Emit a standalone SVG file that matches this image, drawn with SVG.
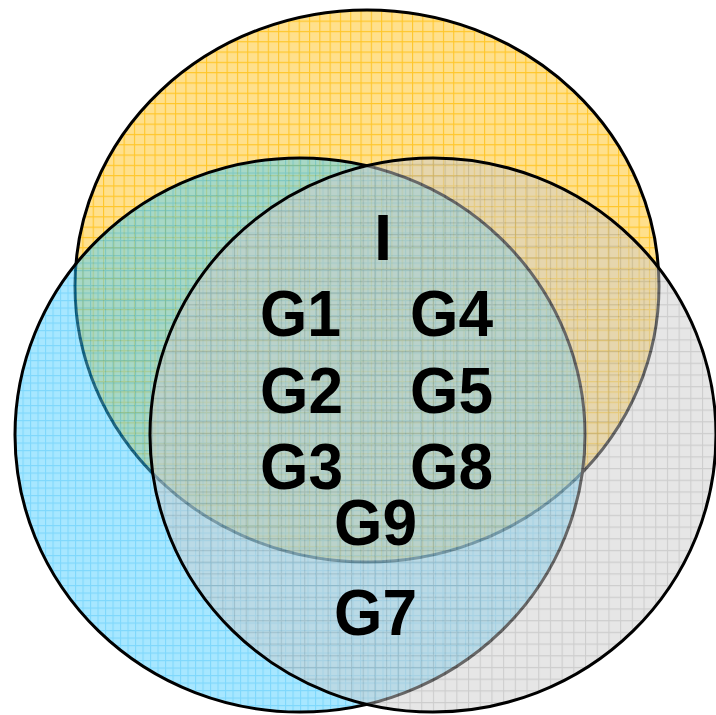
<svg xmlns="http://www.w3.org/2000/svg" width="716" height="715" viewBox="0 0 716 715">
<style>
.set{stroke:#000;stroke-width:3}
.lbl{font-family:"Liberation Sans",Arial,sans-serif;font-weight:bold;font-size:65px;fill:#000}
</style>
<defs>
<pattern id="pY" patternUnits="userSpaceOnUse" width="10.3" height="10.3">
<rect width="10.3" height="10.3" fill="#FFE08C"/>
<path d="M0 0.5H10.3M0.5 0V10.3" stroke="#FFC62A" stroke-width="1.2"/>
</pattern>
<pattern id="pB" patternUnits="userSpaceOnUse" width="7.5" height="7.5">
<rect width="7.5" height="7.5" fill="#4FD0FF"/>
<path d="M0 0.5H7.5M0.5 0V7.5" stroke="#00B0F8" stroke-width="1.2"/>
</pattern>
<pattern id="pG" patternUnits="userSpaceOnUse" width="11.7" height="11.7">
<rect width="11.7" height="11.7" fill="#CDCDCD"/>
<path d="M0 0.5H11.7M0.5 0V11.7" stroke="#9C9C9C" stroke-width="1.2"/>
</pattern>
</defs>
<g id="set-yellow"><ellipse class="set" cx="367" cy="286" rx="292" ry="276" fill="url(#pY)"/></g>
<g id="set-blue"><ellipse class="set" cx="300" cy="435" rx="285" ry="277" fill="url(#pB)" fill-opacity="0.5"/></g>
<g id="set-gray"><ellipse class="set" cx="433" cy="435" rx="283" ry="277" fill="url(#pG)" fill-opacity="0.5"/></g>
<g id="connectors"></g>
<g id="labels">
<text class="lbl" x="383" y="260" text-anchor="middle">I</text>
<text class="lbl" x="260" y="336" textLength="81" lengthAdjust="spacingAndGlyphs">G1</text>
<text class="lbl" x="410" y="336" textLength="83" lengthAdjust="spacingAndGlyphs">G4</text>
<text class="lbl" x="260" y="413" textLength="83" lengthAdjust="spacingAndGlyphs">G2</text>
<text class="lbl" x="410" y="413" textLength="83" lengthAdjust="spacingAndGlyphs">G5</text>
<text class="lbl" x="260" y="489" textLength="83" lengthAdjust="spacingAndGlyphs">G3</text>
<text class="lbl" x="410" y="489" textLength="83" lengthAdjust="spacingAndGlyphs">G8</text>
<text class="lbl" x="334" y="545" textLength="83" lengthAdjust="spacingAndGlyphs">G9</text>
<text class="lbl" x="334" y="635" textLength="83" lengthAdjust="spacingAndGlyphs">G7</text>
</g>
</svg>
